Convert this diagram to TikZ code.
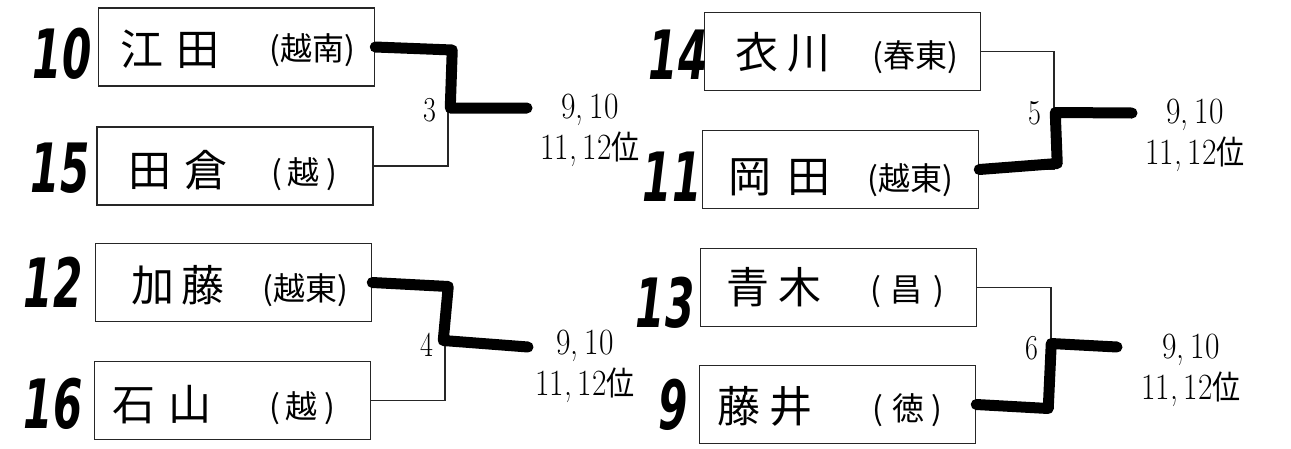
\documentclass[tikz,border=0pt]{standalone}
\usepackage{fontspec}
\newfontfamily\jp{Noto Sans CJK JP}
\newfontfamily\hand{DejaVu Sans}
\tikzset{
  box/.style={draw=black!85, line width=1.5pt, minimum width=276pt, minimum height=78pt, inner sep=0pt},
  nm/.style={inner sep=0pt, font=\jp\fontsize{43}{43}\selectfont},
  af/.style={inner sep=0pt, font=\jp\fontsize{32}{32}\selectfont},
  seed/.style={inner sep=0pt, font=\hand\bfseries\itshape\fontsize{68}{68}\selectfont},
  rnd/.style={inner sep=0pt, font=\fontsize{35}{35}\selectfont},
  res/.style={inner sep=0pt, align=center, font=\fontsize{37}{41}\selectfont},
  thinl/.style={line width=1.3pt, black!85},
  win/.style={line width=11pt, line cap=round, line join=round},
}
\newcommand{\sd}[1]{\scalebox{0.62}[1]{#1}}
\newcommand{\rs}{\scalebox{0.85}[1]{9,\hspace{7pt}10}\\\scalebox{0.85}[1]{11,\hspace{7pt}12{\jp\fontsize{33}{33}\selectfont 位}}}
\begin{document}
\begin{tikzpicture}[x=1pt,y=-1pt]
\useasboundingbox (0,0) rectangle (1291,448);
% boxes
\node[box] (b1) at (236.5,47) {};
\node[box] (b2) at (235,166) {};
\node[box] (b3) at (233.5,282.5) {};
\node[box] (b4) at (232.5,400.5) {};
\node[box] (b5) at (842.5,51.5) {};
\node[box] (b6) at (840.5,169.5) {};
\node[box] (b7) at (838.5,287.5) {};
\node[box] (b8) at (837.5,404.5) {};
% names
\node[nm] (n1) at (170,49) {江\hspace{14pt}田};
\node[af] (a1) at (312,50) {(越南)};
\node[nm] (n2) at (178,170) {田\hspace{14pt}倉};
\node[af] (a2) at (304,174) {(\hspace{6pt}越\hspace{6pt})};
\node[nm] (n3) at (178,285) {加\hspace{8pt}藤};
\node[af] (a3) at (305,290) {(越東)};
\node[nm] (n4) at (162,405) {石\hspace{14pt}山};
\node[af] (a4) at (302,408) {(\hspace{6pt}越\hspace{6pt})};
\node[nm] (n5) at (783,52) {衣\hspace{10pt}川};
\node[af] (a5) at (915,57) {(春東)};
\node[nm] (n6) at (779,177) {岡\hspace{16pt}田};
\node[af] (a6) at (910,180) {(越東)};
\node[nm] (n7) at (774,287) {青\hspace{10pt}木};
\node[af] (a7) at (907,292) {(\hspace{10pt}昌\hspace{10pt})};
\node[nm] (n8) at (765,406) {藤\hspace{10pt}井};
\node[af] (a8) at (907,410) {(\hspace{10pt}徳\hspace{6pt})};
% seeds
\node[seed] (s1) at (62,54) {\sd{10}};
\node[seed] (s2) at (60,168) {\sd{15}};
\node[seed] (s3) at (53,282) {\sd{12}};
\node[seed] (s4) at (53,404) {\sd{16}};
\node[seed] (s5) at (678,55) {\sd{14}};
\node[seed] (s6) at (672,177) {\sd{11}};
\node[seed] (s7) at (665,303) {\sd{13}};
\node[seed] (s8) at (673,405) {\sd{9}};
% junctions
\coordinate (j1) at (448,107);
\coordinate (j2) at (445,341);
\coordinate (j3) at (1054,111);
\coordinate (j4) at (1051,346);
\draw[thinl] (b1.east) -| (j1) |- (b2.east);
\draw[thinl] (b3.east) -| (j2) |- (b4.east);
\draw[thinl] (b5.east) -| (j3) |- (b6.east);
\draw[thinl] (b7.east) -| (j4) |- (b8.east);
% round numbers
\node[rnd, anchor=east] (r1) at (437,110) {\scalebox{0.8}[1]{3}};
\node[rnd, anchor=east] (r2) at (434,345) {\scalebox{0.8}[1]{4}};
\node[rnd, anchor=east] (r3) at (1042,113) {\scalebox{0.8}[1]{5}};
\node[rnd, anchor=east] (r4) at (1039,348) {\scalebox{0.8}[1]{6}};
% result labels
\node[res] (t1) at (590,130) {\rs};
\node[res] (t2) at (585,366) {\rs};
\node[res] (t3) at (1195,135) {\rs};
\node[res] (t4) at (1191,370) {\rs};
% winner lines
\coordinate (w1) at (527,108);
\coordinate (w2) at (528,347);
\coordinate (w3) at (1132,113);
\coordinate (w4) at (1117,347);
\draw[win] (b1.east) -- ++(77,3) -- ++(-2,58) -- (w1);
\draw[win] (b3.east) -- ++(76,4) -- ++(-5,54) -- (w2);
\draw[win] (b6.east) -- ++(78,-6) -- ++(-2,-51) -- (w3);
\draw[win] (b8.east) -- ++(72,4) -- ++(3,-65) -- (w4);
\end{tikzpicture}
\end{document}
